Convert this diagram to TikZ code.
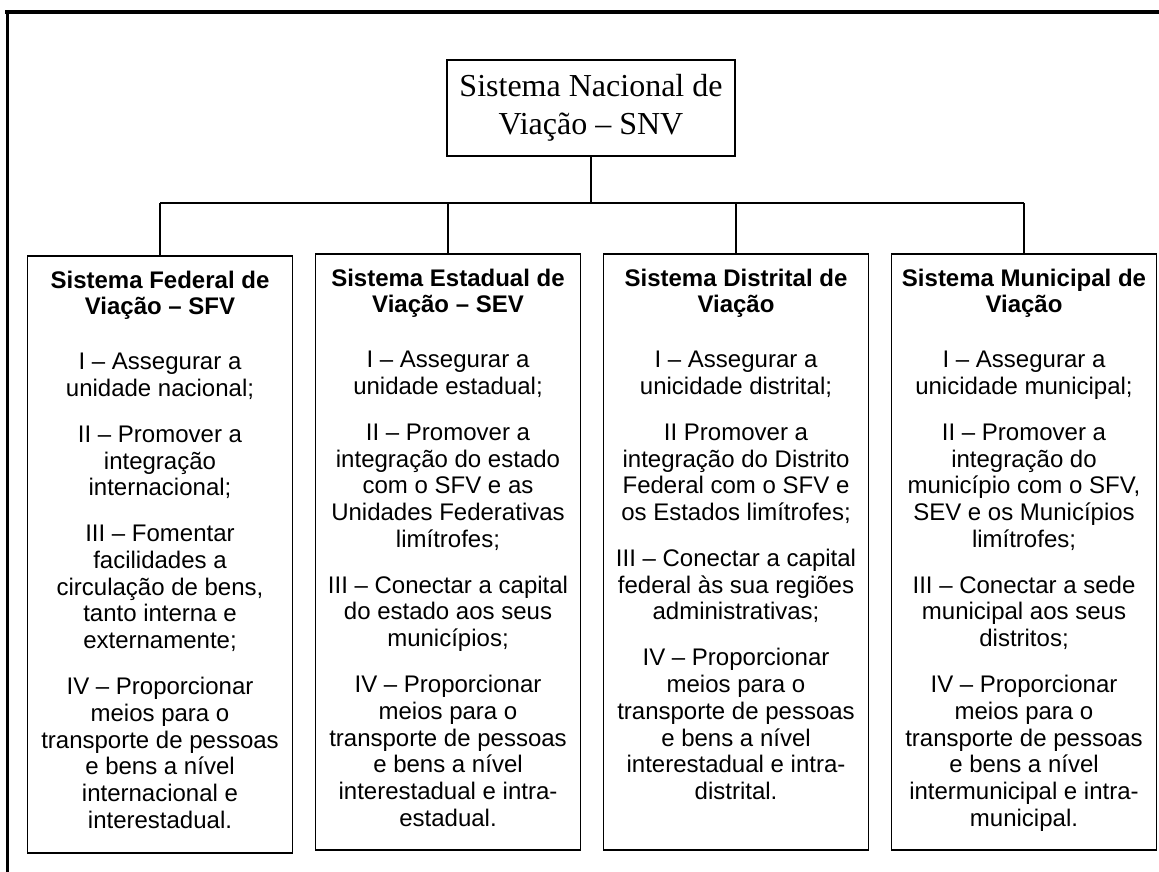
\documentclass[tikz,border=0pt]{standalone}
\usepackage{fontspec}
\setmainfont{Liberation Sans}
\newfontfamily\serifx{Liberation Serif}
\usetikzlibrary{positioning}
\begin{document}
\begin{tikzpicture}[x=1pt,y=-1pt,
  topbox/.style={draw, line width=1.6pt, minimum width=288pt, minimum height=96pt,
    align=center, inner sep=0pt, font=\serifx\fontsize{32}{38.4}\selectfont},
  cbox/.style={draw, line width=1.6pt, minimum width=265pt, inner sep=0pt, anchor=north},
  ctext/.style={align=center, inner sep=0pt, font=\fontsize{24}{26.7}\selectfont},
  conn/.style={line width=1.4pt}]
\useasboundingbox (0,0) rectangle (1159,872);
% outer frame (top and left edges)
\draw[line width=4pt] (5,12) -- (1159,12);
\draw[line width=3pt] (7,12) -- (7,872);
% root
\node[topbox] (snv) at (591,108) {Sistema Nacional de\\Viação – SNV};
% child boxes
\node[cbox, minimum height=597pt] (b1) at (160,255) {};
\node[cbox, minimum height=596pt] (b2) at (448,253) {};
\node[cbox, minimum height=596pt] (b3) at (736,253) {};
\node[cbox, minimum height=596pt] (b4) at (1024,253) {};
% connectors
\coordinate (busL) at (160,203);
\coordinate (busR) at (1024,203);
\draw[conn] (busL) -- (busR);
\draw[conn] (snv.south) -- (snv.south |- busL);
\foreach \b in {b1,b2,b3,b4} \draw[conn] (\b.north) -- (\b.north |- busL);
% texts
\node[ctext, below=15.5pt of b1.north] (t1) {%
{\bfseries Sistema Federal de}\\{\bfseries Viação – SFV}\\[28.3pt]
I – Assegurar a\\unidade nacional;\\[19.3pt]
II – Promover a\\integração\\internacional;\\[19.3pt]
III – Fomentar\\facilidades a\\circulação de bens,\\tanto interna e\\externamente;\\[19.3pt]
IV – Proporcionar\\meios para o\\transporte de pessoas\\e bens a nível\\internacional e\\interestadual.};
\node[ctext, below=15.5pt of b2.north] (t2) {%
{\bfseries Sistema Estadual de}\\{\bfseries Viação – SEV}\\[28.3pt]
I – Assegurar a\\unidade estadual;\\[19.3pt]
II – Promover a\\integração do estado\\com o SFV e as\\Unidades Federativas\\limítrofes;\\[19.3pt]
III – Conectar a capital\\do estado aos seus\\municípios;\\[19.3pt]
IV – Proporcionar\\meios para o\\transporte de pessoas\\e bens a nível\\interestadual e intra-\\estadual.};
\node[ctext, below=15.5pt of b3.north] (t3) {%
{\bfseries Sistema Distrital de}\\{\bfseries Viação}\\[28.3pt]
I – Assegurar a\\unicidade distrital;\\[19.3pt]
II Promover a\\integração do Distrito\\Federal com o SFV e\\os Estados limítrofes;\\[19.3pt]
III – Conectar a capital\\federal às sua regiões\\administrativas;\\[19.3pt]
IV – Proporcionar\\meios para o\\transporte de pessoas\\e bens a nível\\interestadual e intra-\\distrital.};
\node[ctext, below=15.5pt of b4.north] (t4) {%
{\bfseries Sistema Municipal de}\\{\bfseries Viação}\\[28.3pt]
I – Assegurar a\\unicidade municipal;\\[19.3pt]
II – Promover a\\integração do\\município com o SFV,\\SEV e os Municípios\\limítrofes;\\[19.3pt]
III – Conectar a sede\\municipal aos seus\\distritos;\\[19.3pt]
IV – Proporcionar\\meios para o\\transporte de pessoas\\e bens a nível\\intermunicipal e intra-\\municipal.};
\end{tikzpicture}
\end{document}
